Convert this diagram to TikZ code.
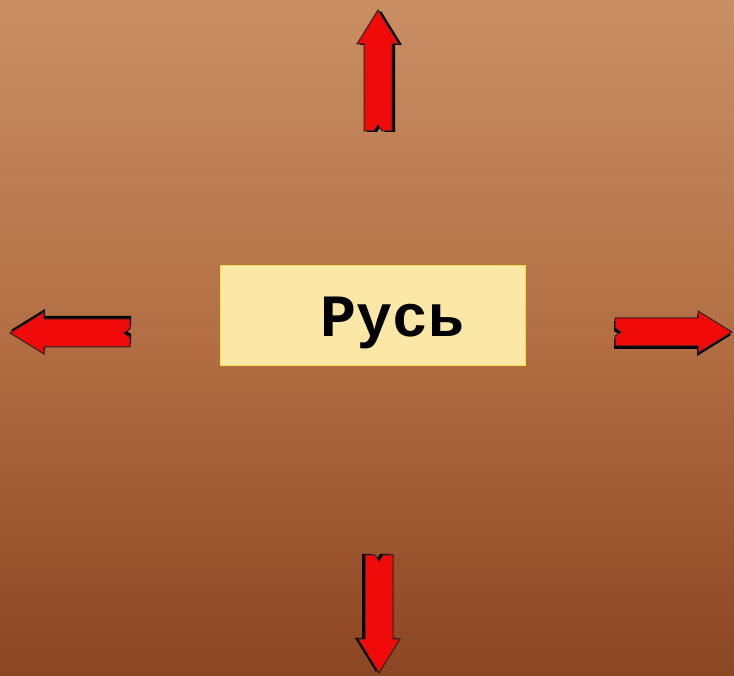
\documentclass[tikz,border=0pt]{standalone}
\usepackage{fontspec}
\newfontfamily\monob{Liberation Mono}
\definecolor{bgtop}{RGB}{201,143,99}
\definecolor{bgmid}{RGB}{179,110,68}
\definecolor{bgbot}{RGB}{139,70,34}
\definecolor{boxfill}{RGB}{251,232,166}
\definecolor{boxline}{RGB}{238,226,70}
\definecolor{arrred}{RGB}{240,10,10}
\tikzset{
  arrowshape/.pic={
    \fill[black] (-14+3,-1) -- (-4+3,-1) -- (0+3,6-1) -- (4+3,-1) -- (14+3,-1) -- (14+3,\len-34-1) -- (21+3,\len-34-1) -- (0+3,\len-1) -- (-21+3,\len-34-1) -- (-14+3,\len-34-1) -- cycle;
    \filldraw[fill=arrred,draw=black!85,line width=1pt,line join=miter]
      (-14,0) -- (-4,0) -- (0,6) -- (4,0) -- (14,0) -- (14,\len-34) -- (21,\len-34) -- (0,\len) -- (-21,\len-34) -- (-14,\len-34) -- cycle;
  },
  rusbox/.style={draw=boxline,fill=boxfill,line width=1pt,minimum width=305pt,minimum height=100pt,inner sep=0pt},
  rustext/.style={font=\monob\bfseries\fontsize{60}{60}\selectfont,inner sep=0pt,anchor=base}
}
\begin{document}
\begin{tikzpicture}[x=1pt,y=1pt]
\useasboundingbox (0,0) rectangle (734,676);
\shade[top color=bgtop,bottom color=bgbot,middle color=bgmid] (0,0) rectangle (734,676);
\node[rusbox] (box) at (372.5,360) {};
\node[rustext] (rus) at (393,339) {Русь};
\def\len{121}
\pic (up) at (378,545) {arrowshape};
\def\len{117}
\pic[rotate=-90] (right) at (615,344) {arrowshape};
\def\len{120}
\pic[rotate=90] (left) at (130,343) {arrowshape};
\def\len{118}
\pic[rotate=180] (down) at (379,121) {arrowshape};
\end{tikzpicture}
\end{document}
